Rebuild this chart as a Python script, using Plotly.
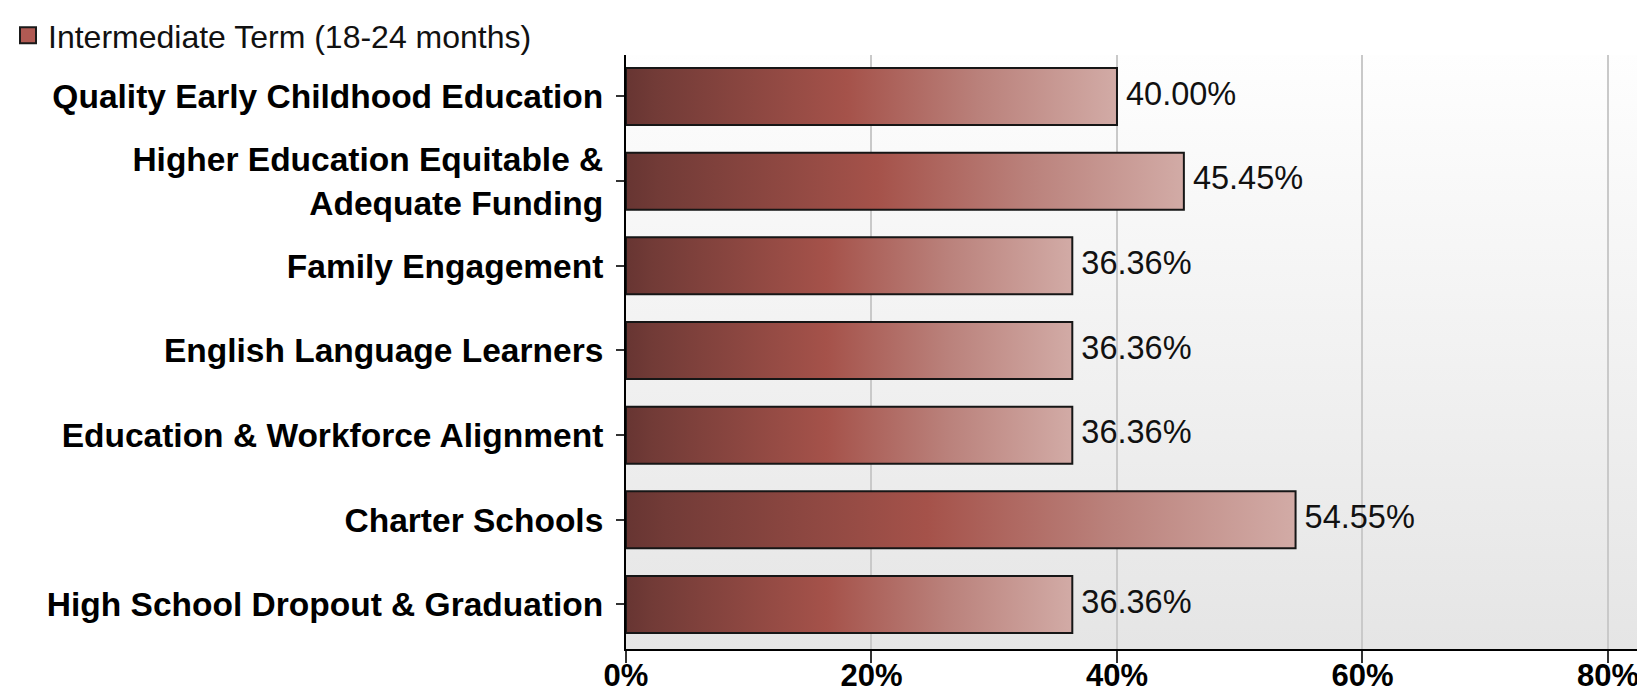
import base64
import plotly.graph_objects as go

# ---- data (top to bottom as shown) ----
categories = [
    "Quality Early Childhood Education",
    "Higher Education Equitable &<br>Adequate Funding",
    "Family Engagement",
    "English Language Learners",
    "Education & Workforce Alignment",
    "Charter Schools",
    "High School Dropout & Graduation",
]
values = [40.00, 45.45, 36.36, 36.36, 36.36, 54.55, 36.36]
series_name = "Intermediate Term (18-24 months)"
x_ticks = [0, 20, 40, 60, 80]
x_tick_labels = [f"{t}%" for t in x_ticks]

# ---- style ----
W, H = 1645, 694
X_MAX = 83.67
Y_RANGE = [-0.526, 6.49]
BAR_HALF = 0.3365
FONT = "Liberation Sans, Arial, sans-serif"
BAR_SCALE = [[0.0, "#673532"], [0.06, "#723b37"], [0.45, "#a5524a"],
             [0.72, "#ba817b"], [1.0, "#d2aba6"]]

n = len(categories)
positions = [n - 1 - i for i in range(n)]

fig = go.Figure()

for cat, v, p in zip(categories, values, positions):
    fig.add_trace(go.Scatter(
        x=[0, v, v, 0, 0],
        y=[p - BAR_HALF, p - BAR_HALF, p + BAR_HALF, p + BAR_HALF, p - BAR_HALF],
        mode="lines",
        fill="toself",
        fillgradient=dict(type="horizontal", colorscale=BAR_SCALE),
        line=dict(color="#161616", width=2),
        showlegend=False,
        hoverinfo="skip",
        name=cat,
    ))

# data labels
fig.add_trace(go.Scatter(
    x=values,
    y=positions,
    mode="text",
    text=[f" {v:.2f}%" for v in values],
    textposition="middle right",
    textfont=dict(family=FONT, size=32.5, color="#111111"),
    showlegend=False,
    hoverinfo="skip",
))

# legend entry
fig.add_trace(go.Scatter(
    x=[None], y=[None],
    mode="markers",
    marker=dict(symbol="square", size=16, color="#b05a53",
                line=dict(color="#1a1a1a", width=2)),
    name=series_name,
    showlegend=True,
))

# plot-area vertical gradient background (svg image, below gridlines)
svg = (
    '<svg xmlns="http://www.w3.org/2000/svg" width="100" height="100" preserveAspectRatio="none">'
    '<defs><linearGradient id="g" x1="0" y1="0" x2="0" y2="1">'
    '<stop offset="0" stop-color="#fefefe"/><stop offset="1" stop-color="#e5e5e5"/>'
    '</linearGradient></defs><rect width="100" height="100" fill="url(#g)"/></svg>'
)
svg_uri = "data:image/svg+xml;base64," + base64.b64encode(svg.encode()).decode()

fig.update_layout(
    width=W, height=H,
    margin=dict(l=618, r=0, t=47, b=53, autoexpand=False),
    paper_bgcolor="white",
    plot_bgcolor="rgba(0,0,0,0)",
    font=dict(family=FONT, color="#111111"),
    images=[dict(source=svg_uri, xref="paper", yref="paper", x=0, y=1,
                 sizex=1, sizey=1, xanchor="left", yanchor="top",
                 sizing="stretch", layer="below")],
    legend=dict(
        xref="container", yref="container",
        x=0.0, y=1.0, xanchor="left", yanchor="top",
        font=dict(family=FONT, size=32, color="#111111"),
        bgcolor="rgba(0,0,0,0)",
        borderwidth=0,
        tracegroupgap=0,
        itemclick=False, itemdoubleclick=False,
    ),
    showlegend=True,
    xaxis=dict(
        range=[0, X_MAX],
        tickmode="array",
        tickvals=x_ticks,
        ticktext=x_tick_labels,
        showgrid=True, gridcolor="#c9c9c9", gridwidth=1.5,
        zeroline=False,
        showline=True, linecolor="#000000", linewidth=2,
        ticks="outside", ticklen=12, tickwidth=2, tickcolor="#333333",
        tickfont=dict(family=FONT, size=31, color="#000000", weight="bold"),
        ticklabelstandoff=-14,
        automargin=False,
        fixedrange=True,
    ),
    yaxis=dict(
        range=Y_RANGE,
        tickvals=positions,
        ticktext=categories,
        showgrid=False,
        zeroline=False,
        showline=True, linecolor="#000000", linewidth=2,
        ticks="outside", ticklen=8, tickwidth=2, tickcolor="#333333",
        tickfont=dict(family=FONT, size=33.5, color="#000000", weight="bold"),
        ticklabelstandoff=6,
        automargin=False,
        fixedrange=True,
    ),
    hovermode=False,
)

fig.write_html("out.html")
